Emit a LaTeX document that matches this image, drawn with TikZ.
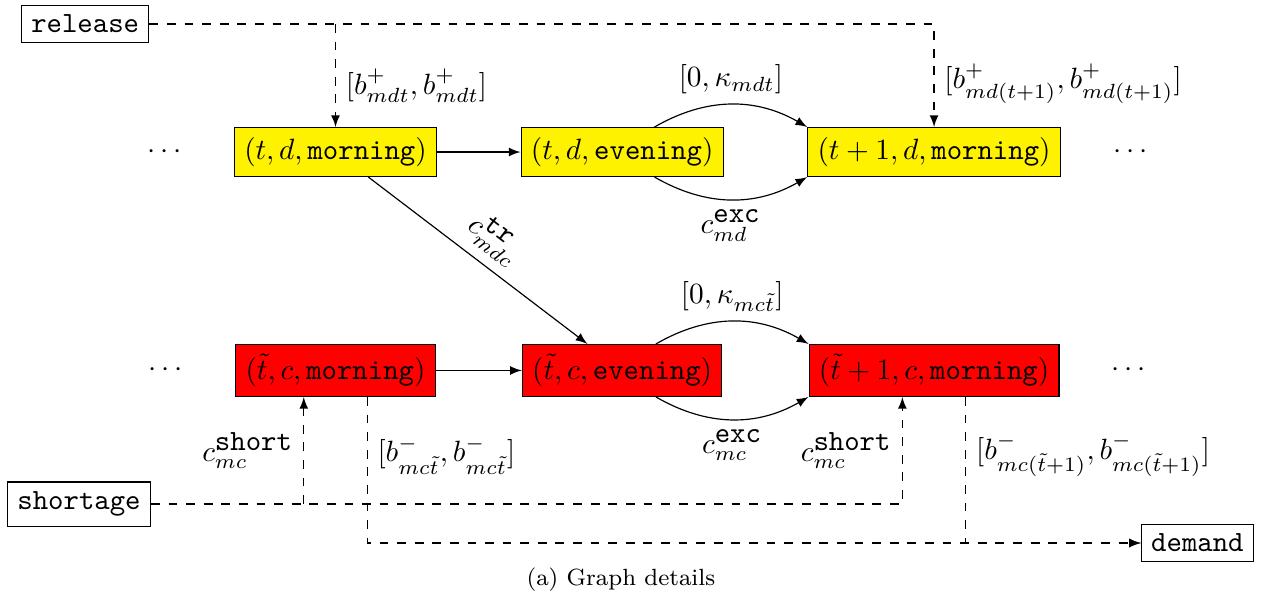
\documentclass[tikz,border=0pt]{standalone}
\usetikzlibrary{positioning}

\begin{document}
\begin{tikzpicture}[
    ->,
    >=latex,
    node distance=1cm and 1cm,
    dstate/.style={rectangle, draw, fill=yellow},
    cstate/.style={rectangle, draw, fill=red},
    ext/.style={rectangle, draw, font=\ttfamily}
  ]
  \useasboundingbox (-4.021,-5.357) rectangle (11.104,1.822);

  % depot row
  \node[dstate] (am)                  {$(t,d,\texttt{morning})$};
  \node[dstate] (ae) [right=of am]    {$(t,d,\texttt{evening})$};
  \node[dstate] (an) [right=of ae]    {$(t+1,d,\texttt{morning})$};
  \node (al) [left=5mm of am]         {$\cdots$};
  \node (ar) [right=5mm of an]        {$\cdots$};

  % customer row
  \node[cstate] (cm) [below=2cm of am] {$(\tilde{t},c,\texttt{morning})$};
  \node[cstate] (ce) [below=2cm of ae] {$(\tilde{t},c,\texttt{evening})$};
  \node[cstate] (cn) [below=2cm of an] {$(\tilde{t}+1,c,\texttt{morning})$};
  \node (cl) [left=5mm of cm]          {$\cdots$};
  \node (cr) [right=5mm of cn]         {$\cdots$};

  % sources and sink
  \node[ext] (release)  at (-3.0,1.534)    {release};
  \node[ext] (shortage) at (-3.074,-4.219) {shortage};
  \node[ext] (demand)   at (10.33,-4.686)  {demand};

  % depot transitions
  \draw (am) -- (ae);
  \draw (ae) edge[bend left]  node[above] {$[0,\kappa_{mdt}]$} (an.north west);
  \draw (ae) edge[bend right] node[below] {$c^{\texttt{exc}}_{md}$} (an.south west);

  % transfer
  \draw (am) -- (ce) node[midway, above, sloped] {$c^{\texttt{tr}}_{mdc}$};

  % customer transitions
  \draw (cm) -- (ce);
  \draw (ce) edge[bend left]  node[above] {$[0,\kappa_{mc\tilde{t}}]$} (cn.north west);
  \draw (ce) edge[bend right] node[below] {$c^{\texttt{exc}}_{mc}$} (cn.south west);

  % release into depot
  \draw[dashed] (release) -| node[right, pos=0.79] {$[b^+_{md(t+1)},b^+_{md(t+1)}]$} (an);
  \draw[dashed] (release -| am) -- node[right, pos=0.6] {$[b^+_{mdt},b^+_{mdt}]$} (am);

  % shortage into customer
  \coordinate (cms) at ([xshift=-0.38cm]cm.south);
  \coordinate (cns) at ([xshift=-0.38cm]cn.south);
  \draw[dashed] (shortage) -| node[left, pos=0.75] {$c^{\texttt{short}}_{mc}$} (cns);
  \draw[dashed] (shortage -| cms) -- node[left] {$c^{\texttt{short}}_{mc}$} (cms);

  % customer demand
  \draw[dashed] ([xshift=0.38cm]cm.south) |- node[right, pos=0.2] {$[b^-_{mc\tilde{t}},b^-_{mc\tilde{t}}]$} (demand);
  \draw[dashed] ([xshift=0.38cm]cn.south) |- node[right, pos=0.2] {$[b^-_{mc(\tilde{t}+1)},b^-_{mc(\tilde{t}+1)}]$} (demand);

  \node[font=\footnotesize] (caption) at (3.42,-5.13) {(a) Graph details};

\end{tikzpicture}
\end{document}
